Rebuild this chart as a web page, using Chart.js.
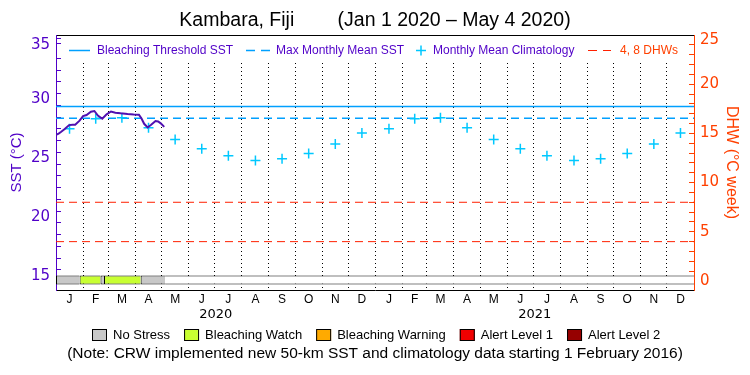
<!DOCTYPE html>
<html>
<head>
<meta charset="utf-8">
<script src="https://cdn.jsdelivr.net/npm/chart.js@4.4.0/dist/chart.umd.min.js"></script>
<style>
  html, body { margin: 0; padding: 0; background: #fff; }
  canvas { display: block; }
</style>
</head>
<body>
<canvas id="grafico" width="750" height="375"></canvas>
<script>
// ---- Datos ----
const monthLetters = ['J', 'F', 'M', 'A', 'M', 'J', 'J', 'A', 'S', 'O', 'N', 'D'];
const years = [2020, 2021];

// climatología mensual (°C), enero..diciembre
const climatology = [27.5, 28.37, 28.45, 27.6, 26.6, 25.8, 25.2, 24.8, 24.95, 25.4, 26.2, 27.15];
const maxMonthlyMean = 28.4;
const bleachingThreshold = 29.4;
const dhwLevels = [4, 8];

// SST diaria (muestreada), 1 ene - 4 may 2020
const sstDates = [
  '2020-01-01', '2020-01-04', '2020-01-07', '2020-01-11', '2020-01-16', '2020-01-20',
  '2020-01-23', '2020-01-28', '2020-02-01', '2020-02-05', '2020-02-10', '2020-02-14',
  '2020-02-18', '2020-02-23', '2020-02-28', '2020-03-04', '2020-03-09', '2020-03-15',
  '2020-03-23', '2020-03-30', '2020-04-05', '2020-04-08', '2020-04-11', '2020-04-15',
  '2020-04-19', '2020-04-24', '2020-04-27', '2020-04-30', '2020-05-04'
];
const sstValues = [
  27.0, 27.1, 27.25, 27.48, 27.82, 27.85,
  27.85, 28.2, 28.58, 28.68, 28.96, 29.02,
  28.63, 28.36, 28.74, 28.98, 28.88, 28.82,
  28.76, 28.72, 28.7, 28.38, 27.93, 27.62,
  27.85, 28.17, 28.13, 27.97, 27.67
];

// franja de estrés térmico
const stressLevels = ['No Stress', 'Bleaching Watch', 'Bleaching Warning', 'Alert Level 1', 'Alert Level 2'];
const stressStart = ['2020-01-01', '2020-01-28', '2020-02-21', '2020-02-25', '2020-04-07'];
const stressEnd   = ['2020-01-28', '2020-02-21', '2020-02-25', '2020-04-07', '2020-05-05'];
const stressLevel = [0, 1, 0, 1, 0];

// ticks
const sstMajorTicks = [15, 20, 25, 30, 35];
const dhwMajorTicks = [0, 5, 10, 15, 20, 25];

// ---- Estilos ----
const FONT = "'Liberation Sans', Arial, sans-serif";
const NUM_FONT = "'DejaVu Sans', sans-serif";
const PURPLE = '#5000c8';
const ORANGE = '#ff4000';
const SST_COLOR = '#5010b0';
const THRESH_COLOR = '#00a0ff';
const CLIM_COLOR = '#00c8ff';
const DHW_COLOR = '#ff2000';
const stressColors = ['#c8c8c8', '#c8ff32', '#ffaa00', '#f00000', '#960000'];

// ---- Geometría del área de trazado ----
const PLOT_PX = 255;   // 35 -> 290
const STRIP_PX = 9;    // franja inferior
const TOP_LABEL_SHIFT = 5; // la etiqueta superior baja unos px, como en el original
const sstPerPx = (35 - 15) / (PLOT_PX - STRIP_PX);
const dhwPerPx = 25 / (PLOT_PX - STRIP_PX);
const sstMin = 15 - STRIP_PX * sstPerPx;
const dhwMin = -STRIP_PX * dhwPerPx;
const stripCenter = 15 - (STRIP_PX / 2) * sstPerPx;

// ---- Fechas -> días desde 1 ene 2020 ----
const T0 = Date.UTC(2020, 0, 1);
const dayOf = s => (Date.parse(s) - T0) / 86400000;
const monthStarts = [];
years.forEach(y => { for (let m = 0; m < 12; m++) monthStarts.push((Date.UTC(y, m, 1) - T0) / 86400000); });
monthStarts.push((Date.UTC(years[years.length - 1] + 1, 0, 1) - T0) / 86400000);
const totalDays = monthStarts[monthStarts.length - 1];
const monthMids = monthStarts.slice(0, -1).map((d, i) => (d + monthStarts[i + 1]) / 2);
const yearMids = years.map((y, i) => (monthStarts[i * 12] + monthStarts[i * 12 + 12]) / 2);

// ticks menores cada unidad + etiqueta superior desplazada
const axisTicks = (majors, perPx) => {
  const top = majors[majors.length - 1];
  const out = [];
  for (let v = majors[0]; v <= top; v++) out.push({ value: v });
  out.splice(out.length - 1, 0, { value: top - TOP_LABEL_SHIFT * perPx, labelOnly: true, text: String(top) });
  return out;
};
const tickLabel = majors => (v, i, ticks) => {
  const t = ticks[i];
  if (t.labelOnly) return t.text;
  return majors.includes(v) && v !== majors[majors.length - 1] ? String(v) : '';
};

// ---- Datasets ----
const flatLine = (v, axis, color, dash, width) => ({
  type: 'line', xAxisID: 'x', yAxisID: axis,
  data: [{ x: 0, y: v }, { x: totalDays, y: v }],
  borderColor: color, borderWidth: width, borderDash: dash, pointRadius: 0
});

const stressBar = {
  type: 'bar', indexAxis: 'y', xAxisID: 'x', yAxisID: 'y',
  grouped: false, barThickness: STRIP_PX, maxBarThickness: STRIP_PX, inflateAmount: 0,
  borderColor: '#000', borderSkipped: false
};

const datasets = [
  {
    label: 'SST', type: 'line', xAxisID: 'x', yAxisID: 'y',
    data: sstDates.map((d, i) => ({ x: dayOf(d), y: sstValues[i] })),
    borderColor: SST_COLOR, borderWidth: 2, pointRadius: 0, tension: 0
  },
  {
    label: 'Monthly Mean Climatology', type: 'line', xAxisID: 'x', yAxisID: 'y', showLine: false,
    data: monthMids.map((d, i) => ({ x: d, y: climatology[i % 12] })),
    pointStyle: 'cross', pointRadius: 5, pointBorderWidth: 1.5,
    pointBorderColor: CLIM_COLOR, borderColor: CLIM_COLOR
  },
  Object.assign({ label: 'Bleaching Threshold SST' }, flatLine(bleachingThreshold, 'y', THRESH_COLOR, [], 1.5)),
  Object.assign({ label: 'Max Monthly Mean SST' }, flatLine(maxMonthlyMean, 'y', THRESH_COLOR, [8, 5], 1.5)),
  ...dhwLevels.map(l => Object.assign({ label: l + ' DHW' }, flatLine(l, 'y2', DHW_COLOR, [8, 5], 1))),
  ...stressLevels.map((name, k) => Object.assign({}, stressBar, {
    label: name,
    backgroundColor: stressColors[k],
    borderWidth: { top: 1, bottom: 1, left: 1, right: 0 },
    data: stressLevel.map((lv, i) => ({ lv, i }))
      .filter(o => o.lv === k)
      .map(o => ({ x: [dayOf(stressStart[o.i]), dayOf(stressEnd[o.i])], y: stripCenter }))
  })),
  Object.assign({}, stressBar, {
    label: 'sin datos', backgroundColor: '#fff',
    borderWidth: { top: 1, bottom: 1, left: 0, right: 0 },
    data: [{ x: [dayOf(stressEnd[stressEnd.length - 1]), totalDays], y: stripCenter }]
  })
];

// ---- Leyenda interior (arriba) ----
const topLegend = {
  id: 'topLegend',
  beforeDatasetsDraw(chart) {
    // tapa el inicio de las rejillas punteadas bajo la leyenda
    const { ctx, chartArea } = chart;
    ctx.save();
    ctx.fillStyle = '#fff';
    ctx.fillRect(chartArea.left + 6, chartArea.top + 1, chartArea.width - 12, 26);
    ctx.restore();
  },
  afterDraw(chart) {
    const { ctx } = chart;
    const y = 50.5;
    ctx.save();
    ctx.font = '12px ' + FONT;
    ctx.textBaseline = 'middle';
    ctx.lineWidth = 1.5;

    ctx.strokeStyle = THRESH_COLOR;
    ctx.beginPath(); ctx.moveTo(69, y); ctx.lineTo(90, y); ctx.stroke();
    ctx.fillStyle = PURPLE;
    ctx.fillText('Bleaching Threshold SST', 97, y);

    ctx.setLineDash([9, 6]);
    ctx.beginPath(); ctx.moveTo(246, y); ctx.lineTo(270, y); ctx.stroke();
    ctx.fillText('Max Monthly Mean SST', 276, y);

    ctx.setLineDash([]);
    ctx.strokeStyle = CLIM_COLOR;
    ctx.beginPath();
    ctx.moveTo(416, y); ctx.lineTo(426, y);
    ctx.moveTo(421, y - 5); ctx.lineTo(421, y + 5);
    ctx.stroke();
    ctx.fillText('Monthly Mean Climatology', 433, y);

    ctx.strokeStyle = DHW_COLOR;
    ctx.lineWidth = 1;
    ctx.setLineDash([9, 6]);
    ctx.beginPath(); ctx.moveTo(588, y); ctx.lineTo(611, y); ctx.stroke();
    ctx.fillStyle = ORANGE;
    ctx.fillText('4, 8 DHWs', 620, y);
    ctx.restore();
  }
};

// ---- Leyenda de niveles de estrés (abajo) ----
const stressLegend = {
  id: 'stressLegend',
  afterDraw(chart) {
    const { ctx } = chart;
    const BOX_W = 15, BOX_H = 12, TXT_GAP = 6, ITEM_GAP = 14, boxTop = 329, textY = 335;
    ctx.save();
    ctx.font = '13px ' + FONT;
    ctx.textBaseline = 'middle';
    const widths = stressLevels.map(t => ctx.measureText(t).width);
    const total = widths.reduce((a, w) => a + BOX_W + TXT_GAP + w, 0) + ITEM_GAP * (stressLevels.length - 1);
    let x = Math.round(376 - total / 2);
    stressLevels.forEach((t, k) => {
      ctx.fillStyle = stressColors[k];
      ctx.fillRect(x, boxTop, BOX_W, BOX_H);
      ctx.strokeStyle = '#000';
      ctx.lineWidth = 1;
      ctx.strokeRect(x + 0.5, boxTop + 0.5, BOX_W - 1, BOX_H - 1);
      ctx.fillStyle = '#000';
      ctx.fillText(t, x + BOX_W + TXT_GAP, textY);
      x += BOX_W + TXT_GAP + widths[k] + ITEM_GAP;
    });
    ctx.restore();
  }
};

// ---- Gráfico ----
const ctx = document.getElementById('grafico').getContext('2d');
new Chart(ctx, {
  type: 'line',
  data: { datasets },
  plugins: [topLegend, stressLegend],
  options: {
    responsive: false,
    animation: false,
    devicePixelRatio: 1,
    events: [],
    layout: { padding: { left: 0, right: 0, top: 0, bottom: 11.7 } },
    plugins: {
      tooltip: { enabled: false },
      legend: { display: false },
      title: {
        display: true,
        text: 'Kambara, Fiji        (Jan 1 2020 \u2013 May 4 2020)',
        color: '#000',
        font: { family: FONT, size: 19.5, weight: 'normal', lineHeight: 1.2 },
        padding: { top: 9, bottom: 0 }
      },
      subtitle: {
        // la nota; el hueco superior deja sitio a la leyenda de estrés
        display: true,
        position: 'bottom',
        text: '(Note: CRW implemented new 50-km SST and climatology data starting 1 February 2016)',
        color: '#000',
        font: { family: FONT, size: 15.5, lineHeight: 1.2 },
        padding: { top: 16.7, bottom: 0 }
      }
    },
    scales: {
      x: {
        type: 'linear', position: 'bottom', weight: 1, min: 0, max: totalDays,
        afterBuildTicks: s => { s.ticks = monthMids.map(v => ({ value: v })); },
        afterFit: s => { s.height = 18; },
        ticks: {
          autoSkip: false, maxRotation: 0, padding: 2, color: '#000',
          font: { family: FONT, size: 12 },
          callback: (v, i) => monthLetters[i % 12]
        },
        grid: { display: false, drawTicks: false },
        border: { display: true, color: '#000', width: 1 }
      },
      xg: {
        type: 'linear', position: 'bottom', weight: 0, min: 0, max: totalDays,
        afterBuildTicks: s => { s.ticks = monthStarts.slice(1, -1).map(v => ({ value: v })); },
        afterFit: s => { s.height = 0; },
        ticks: { display: false },
        grid: { display: true, drawOnChartArea: true, drawTicks: false, color: '#000', lineWidth: 1 },
        border: { display: false, dash: [1, 3] }
      },
      xYear: {
        type: 'linear', position: 'bottom', weight: 2, min: 0, max: totalDays,
        afterBuildTicks: s => { s.ticks = yearMids.map(v => ({ value: v })); },
        afterFit: s => { s.height = 20; },
        ticks: {
          autoSkip: false, maxRotation: 0, padding: -1, color: '#000',
          font: { family: NUM_FONT, size: 13 },
          callback: (v, i) => String(years[i])
        },
        grid: { display: false, drawTicks: false },
        border: { display: false }
      },
      xTop: {
        type: 'linear', position: 'top', min: 0, max: totalDays,
        afterFit: s => { s.height = 2.6; },
        ticks: { display: false },
        grid: { display: false, drawTicks: false },
        border: { display: true, color: '#000', width: 1 }
      },
      y: {
        type: 'linear', position: 'left', min: sstMin, max: 35,
        afterBuildTicks: s => { s.ticks = axisTicks(sstMajorTicks, sstPerPx); },
        afterFit: s => { s.width = 56; },
        ticks: {
          autoSkip: false, padding: 11, color: PURPLE,
          font: { family: NUM_FONT, size: 15 },
          callback: tickLabel(sstMajorTicks)
        },
        grid: {
          display: true, drawOnChartArea: false, drawTicks: true, tickLength: -5, tickWidth: 1,
          tickColor: c => (c.tick && c.tick.labelOnly ? 'rgba(0,0,0,0)' : PURPLE)
        },
        border: { display: true, color: PURPLE, width: 1 },
        title: {
          display: true, text: 'SST (\u00b0C)', color: PURPLE,
          font: { family: FONT, size: 15 }, padding: { top: 8, bottom: 0 }
        }
      },
      y2: {
        type: 'linear', position: 'right', min: dhwMin, max: 25,
        afterBuildTicks: s => { s.ticks = axisTicks(dhwMajorTicks, dhwPerPx); },
        afterFit: s => { s.width = 56; },
        ticks: {
          autoSkip: false, padding: 11, color: ORANGE,
          font: { family: NUM_FONT, size: 15 },
          callback: tickLabel(dhwMajorTicks)
        },
        grid: {
          display: true, drawOnChartArea: false, drawTicks: true, tickLength: -5, tickWidth: 1,
          tickColor: c => (c.tick && c.tick.labelOnly ? 'rgba(0,0,0,0)' : ORANGE)
        },
        border: { display: true, color: ORANGE, width: 1 },
        title: {
          display: true, text: 'DHW (\u00b0C week)', color: ORANGE,
          font: { family: FONT, size: 16 }, padding: { top: 9, bottom: 0 }
        }
      }
    }
  }
});
</script>
</body>
</html>
